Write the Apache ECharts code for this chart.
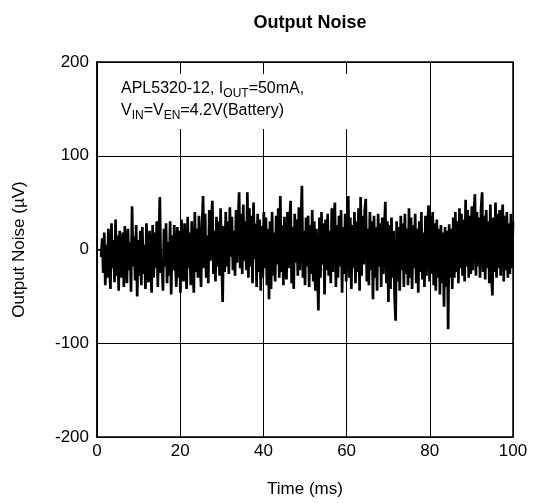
<!DOCTYPE html>
<html>
<head>
<meta charset="utf-8">
<script src="https://cdn.jsdelivr.net/npm/echarts@6/dist/echarts.min.js"></script>
<style>
html,body{margin:0;padding:0;background:#fff;}
#chart{width:533px;height:503px;}
</style>
</head>
<body>
<div id="chart"></div>
<script>
// ---- data ----
const titleText = 'Output Noise';
const xAxisName = 'Time (ms)';
const yAxisName = 'Output Noise (µV)';
const xTicks = [0, 20, 40, 60, 80, 100];
const yTicks = [-200, -100, 0, 100, 200];
const sampleStartMs = 1.0;
const sampleStepMs = 0.2475;
// output noise in µV, one sample every sampleStepMs
const noiseUV = [
  -8, 12, -25, 18, -38, 5, -30, 22, -15, -42, 28, -20, 10, -35, 32, -28, 15, -44, 20, -12,
  -30, 18, -40, 25, -10, -36, 22, -22, 8, -45, 46, -18, 14, -33, 26, -50, 10, -28, 20, -38,
  24, -26, 5, -42, 28, -15, -35, 20, -8, -46, 26, -30, 18, -20, 30, -40, 12, 56, -25, -10,
  -44, 22, -18, 28, -36, 8, -28, 30, -48, 15, -22, 26, -12, -40, 24, -30, 20, -46, 32, -16,
  -34, 28, -8, -42, 35, -20, 18, -38, 30, -14, -46, 40, -24, 22, -30, 36, -10, -40, 26, 57,
  -20, 38, -30, 15, -36, 42, -12, 28, 52, -26, 20, -34, 35, -18, 30, -28, 44, -10, -56, 25,
  -24, 40, -18, 30, -26, 45, -8, 35, -22, 20, -28, 42, -14, 32, 61, -20, 38, -26, 48, -12,
  30, -22, 61, -30, 44, -18, 36, -36, 50, -10, 28, -40, 38, -24, 32, -44, 25, -30, 40, -20,
  34, -38, 22, -53, 30, -42, 40, -28, 18, -34, 36, -16, 44, -30, 57, -24, 26, -38, 35, -12,
  -32, 40, -20, 30, 52, -36, 24, -42, 38, -14, 32, -28, 45, -22, 28, 68, -30, 20, -38, 34,
  -18, 36, -40, 26, -26, 42, -34, 30, -44, 22, -20, -65, 34, -30, 40, -16, 28, -48, 32, -22,
  38, -28, 20, -36, 44, -24, 30, 50, -40, 26, -30, 36, -18, 42, -46, 24, -26, 38, -34, 28,
  57, -30, 34, -42, 26, -20, 40, -36, 30, -24, 44, -44, 56, -28, 36, -16, 42, 54, -34, 22,
  -38, 40, -22, 30, -53, 36, -30, 24, -44, 38, -18, 28, -40, 34, -26, 20, 51, -36, 30, -56,
  26, -42, 34, -30, 20, -50, -76, 30, -34, 24, -44, 36, -22, 28, -40, 38, -26, 22, -38, 44,
  -30, 34, -42, 26, -20, 38, -36, 22, -46, 30, -24, 40, -32, 18, -40, 36, -28, 24, 47, -34,
  36, -26, 40, -38, 28, -44, 32, -30, 22, -48, 26, -36, 18, -61, 24, -40, 20, -85, 27, -30,
  22, -42, 34, -30, 40, -24, 30, -36, 44, -20, 38, -28, 32, -34, 53, -18, 42, -30, 36, -26,
  46, -22, 38, 59, -28, 40, -18, 34, -30, 44, 61, -24, 36, -32, 42, -20, 30, -36, 48, -26,
  -49, 34, -24, 50, -30, 38, -20, 42, -28, 30, 48, -34, 36, -22, 40, -30, 28, -26, 38, -20, 30
];

// ---- build ----
const seriesData = noiseUV.map((v, i) => [sampleStartMs + i * sampleStepMs, v]);
const FONT = '"Liberation Sans", Arial, Helvetica, sans-serif';

const chart = echarts.init(document.getElementById('chart'), null, {renderer: 'canvas'});
chart.setOption({
  backgroundColor: '#fff',
  animation: false,
  title: {
    text: titleText,
    left: 305, top: 9, textAlign: 'center',
    textStyle: {fontFamily: FONT, fontSize: 18, fontWeight: 'bold', color: '#000'}
  },
  grid: {
    left: 97, right: 20, top: 62, bottom: 66,
    show: true, borderColor: '#000', borderWidth: 1.5, backgroundColor: 'transparent'
  },
  xAxis: {
    type: 'value',
    min: xTicks[0], max: xTicks[xTicks.length - 1], interval: 20,
    name: xAxisName, nameLocation: 'middle', nameGap: 44,
    nameTextStyle: {fontFamily: FONT, fontSize: 17, color: '#000'},
    axisLine: {show: true, lineStyle: {color: '#000', width: 1.5}},
    axisTick: {show: false},
    axisLabel: {fontFamily: FONT, fontSize: 17, color: '#000', margin: 6},
    splitLine: {show: true, lineStyle: {color: '#000', width: 1}}
  },
  yAxis: {
    type: 'value',
    min: yTicks[0], max: yTicks[yTicks.length - 1], interval: 100,
    name: yAxisName, nameLocation: 'middle', nameGap: 69, nameRotate: 90,
    nameTextStyle: {fontFamily: FONT, fontSize: 17, color: '#000'},
    axisLine: {show: true, lineStyle: {color: '#000', width: 1.5}},
    axisTick: {show: false},
    axisLabel: {fontFamily: FONT, fontSize: 17, color: '#000', margin: 8},
    splitLine: {show: true, lineStyle: {color: '#000', width: 1}}
  },
  graphic: [
    {
      type: 'rect', z: 50,
      shape: {x: 108, y: 74, width: 246, height: 55},
      style: {fill: '#fff'}
    },
    {
      type: 'text', z: 51, left: 121, top: 81,
      style: {
        text: '{n|APL5320-12, I}{s|OUT}{n|=50mA,}\n{n|V}{s|IN}{n|=V}{s|EN}{n|=4.2V(Battery)}',
        rich: {
          n: {fontFamily: FONT, fontSize: 16, lineHeight: 22, fill: '#000', verticalAlign: 'middle'},
          s: {fontFamily: FONT, fontSize: 12, lineHeight: 13, fill: '#000', verticalAlign: 'bottom'}
        }
      }
    }
  ],
  series: [{
    type: 'line',
    data: seriesData,
    showSymbol: false,
    symbol: 'none',
    sampling: null,
    lineStyle: {color: '#000', width: 2.7, join: 'miter'},
    z: 5
  }]
});
</script>
</body>
</html>
